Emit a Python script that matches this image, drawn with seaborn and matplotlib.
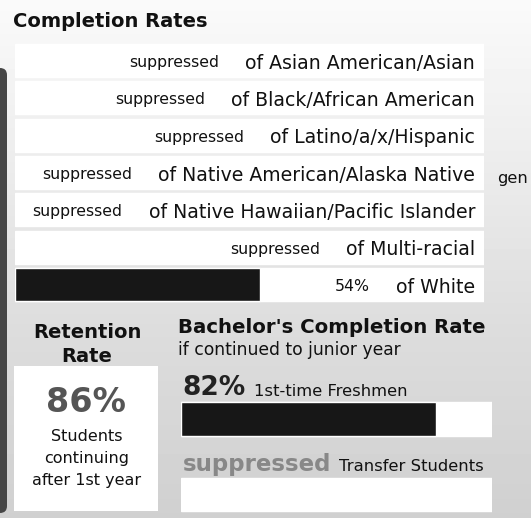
"""Completion / retention summary card."""

import matplotlib.pyplot as plt
import numpy as np
import pandas as pd
import seaborn as sns
from matplotlib.patches import FancyBboxPatch, Rectangle

# Data
groups = [
    "Asian American/Asian",
    "Black/African American",
    "Latino/a/x/Hispanic",
    "Native American/Alaska Native",
    "Native Hawaiian/Pacific Islander",
    "Multi-racial",
    "White",
]
completion = [np.nan, np.nan, np.nan, np.nan, np.nan, np.nan, 54]  # nan = suppressed

retention_rate = 86
retention_lines = ["Students", "continuing", "after 1st year"]

bachelor_groups = ["1st-time Freshmen", "Transfer Students"]
bachelor_rates = [82, np.nan]

# Figure setup (work in pixels)
W, H = 531, 518
sns.set_style("white")
plt.rcParams["font.family"] = ["DejaVu Sans"]
ink = "#111111"
bar_color = "#171717"

fig = plt.figure(figsize=(W / 100, H / 100), dpi=100)

# Background panel with soft vertical gradient
bg = fig.add_axes([0, 0, 1, 1])
shade = np.interp(np.arange(H), [0, 150, 330, H], [0.98, 0.93, 0.865, 0.815])
bg.imshow(
    np.tile(shade[:, None], (1, W)),
    cmap="gray",
    vmin=0,
    vmax=1,
    extent=(0, W, H, 0),
    aspect="auto",
    interpolation="bilinear",
)
bg.set_xlim(0, W)
bg.set_ylim(H, 0)
bg.axis("off")

# dark strip on the left edge
bg.add_patch(
    FancyBboxPatch(
        (-10, 68), 17, 445, boxstyle="round,pad=0,rounding_size=7",
        facecolor="#464646", edgecolor="none",
    )
)

bg.text(13, 27, "Completion Rates", fontsize=14, fontweight="bold", color=ink, va="baseline")
bg.text(497, 183, "gen", fontsize=11.8, color=ink, va="baseline")

# Completion rate bars
ax = fig.add_axes([15 / W, 1 - 303.2 / H, 469 / W, 261.3 / H])
track_max = 103.3
df = pd.DataFrame({"group": groups, "rate": completion, "track": track_max})
sns.barplot(data=df, x="track", y="group", order=groups, color="white",
            width=0.88, errorbar=None, ax=ax)
sns.barplot(data=df, x="rate", y="group", order=groups, color=bar_color,
            width=0.88, errorbar=None, ax=ax)
ax.set_xlim(0, track_max)
ax.axis("off")

for i, (g, v) in enumerate(zip(groups, completion)):
    lab = ax.annotate(
        f"of {g}", xy=(0.981, i), xycoords=(ax.transAxes, ax.transData),
        xytext=(0, -2), textcoords="offset points",
        ha="right", va="center", fontsize=13.6, color=ink,
    )
    val = "suppressed" if np.isnan(v) else f"{v:.0f}%"
    ax.annotate(
        val, xy=(0, 0), xycoords=lab, xytext=(-19, 2), textcoords="offset points",
        ha="right", va="bottom", fontsize=11.3, color=ink,
    )

# Retention rate block (multi-line text is anchored on its last baseline)
bg.text(87, 362, "Retention\nRate", fontsize=14, fontweight="bold", color=ink,
        ha="center", va="baseline", linespacing=1.3)
bg.add_patch(Rectangle((14, 366), 144, 145, facecolor="white", edgecolor="none"))
bg.text(86, 412, f"{retention_rate}%", fontsize=24, fontweight="bold", color="#555555",
        ha="center", va="baseline")
bg.text(87, 485, "\n".join(retention_lines), fontsize=11.5, color=ink,
        ha="center", va="baseline", linespacing=1.6)

# Bachelor's completion block
bg.text(178, 333, "Bachelor's Completion Rate", fontsize=14.2, fontweight="bold",
        color=ink, va="baseline")
bg.text(178, 355, "if continued to junior year", fontsize=12.3, color=ink, va="baseline")

bx = fig.add_axes([181 / W, 1 - 517.15 / H, 311 / W, 120.8 / H])
bdf = pd.DataFrame({"group": bachelor_groups, "rate": bachelor_rates, "track": 100})
sns.barplot(data=bdf, x="track", y="group", order=bachelor_groups, color="white",
            width=0.45, errorbar=None, ax=bx)
sns.barplot(data=bdf, x="rate", y="group", order=bachelor_groups, color=bar_color,
            width=0.45, errorbar=None, ax=bx)
bx.set_xlim(0, 100)
bx.set_ylim(1.3, -0.3)
bx.axis("off")

for i, (g, v) in enumerate(zip(bachelor_groups, bachelor_rates)):
    suppressed = np.isnan(v)
    val = bx.annotate(
        "suppressed" if suppressed else f"{v:.0f}%",
        xy=(0, i - 0.225), xytext=(1, 1), textcoords="offset points",
        ha="left", va="bottom", fontweight="bold",
        fontsize=16.5 if suppressed else 19,
        color="#888888" if suppressed else "#222222",
    )
    bx.annotate(
        g, xy=(1, 0), xycoords=val, xytext=(6, 1.5), textcoords="offset points",
        ha="left", va="bottom", fontsize=11.8, color=ink,
    )

fig.savefig("out.png", dpi=100)
plt.close()
